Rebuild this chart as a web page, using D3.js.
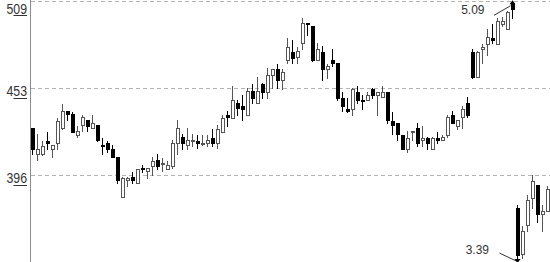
<!DOCTYPE html>
<html><head><meta charset="utf-8">
<script src="https://cdn.jsdelivr.net/npm/d3@7"></script>
<style>html,body{margin:0;padding:0;background:#fff;overflow:hidden}</style>
</head><body><svg id="c" width="550" height="262"></svg>
<script>
const open=[4.27,4.10,4.10,4.18,4.13,4.17,4.27,4.38,4.36,4.22,
4.29,4.32,4.27,4.29,4.16,4.17,4.13,4.08,3.82,3.93,
3.95,3.91,4.01,3.99,4.02,4.06,4.04,4.00,4.02,4.17,
4.21,4.16,4.19,4.18,4.17,4.17,4.20,4.17,4.24,4.35,
4.33,4.43,4.41,4.35,4.51,4.43,4.55,4.50,4.61,4.65,
4.58,4.71,4.76,4.73,4.82,4.95,4.93,4.71,4.76,4.65,
4.71,4.69,4.46,4.39,4.39,4.50,4.45,4.45,4.52,4.48,
4.47,4.50,4.31,4.30,4.22,4.13,4.24,4.27,4.19,4.20,
4.13,4.20,4.19,4.22,4.35,4.28,4.34,4.43,4.76,4.60,
4.78,4.81,4.85,4.81,4.94,4.91,5.07,3.75,3.45,3.64,
3.81,3.90,3.71,3.73];
const close=[4.13,4.13,4.15,4.17,4.16,4.31,4.38,4.36,4.24,4.25,
4.34,4.28,4.30,4.19,4.15,4.13,4.08,3.93,3.94,3.94,
3.93,4.00,4.00,4.01,4.05,4.02,4.04,4.03,4.17,4.27,
4.17,4.19,4.19,4.17,4.17,4.19,4.17,4.26,4.33,4.34,
4.45,4.40,4.39,4.51,4.46,4.51,4.50,4.61,4.65,4.58,
4.63,4.79,4.72,4.77,4.95,4.94,4.71,4.78,4.65,4.67,
4.69,4.46,4.41,4.38,4.52,4.45,4.44,4.48,4.48,4.50,
4.50,4.32,4.29,4.23,4.13,4.20,4.25,4.17,4.20,4.17,
4.20,4.19,4.21,4.34,4.30,4.32,4.39,4.35,4.60,4.76,
4.79,4.86,4.84,4.96,4.96,5.02,5.04,3.44,3.60,3.80,
3.92,3.71,3.73,3.87];
const high=[4.27,4.23,4.18,4.24,4.16,4.33,4.42,4.38,4.37,4.28,
4.35,4.32,4.35,4.29,4.20,4.18,4.16,4.08,3.95,3.95,
3.98,4.00,4.03,4.01,4.08,4.10,4.07,4.05,4.19,4.32,
4.23,4.27,4.23,4.22,4.22,4.22,4.26,4.29,4.35,4.38,
4.54,4.45,4.48,4.53,4.55,4.60,4.56,4.66,4.65,4.68,
4.65,4.85,4.84,4.79,4.98,4.95,4.93,4.82,4.80,4.68,
4.78,4.69,4.50,4.46,4.53,4.54,4.48,4.50,4.53,4.50,
4.54,4.50,4.37,4.30,4.22,4.25,4.25,4.30,4.28,4.21,
4.21,4.24,4.22,4.35,4.38,4.32,4.41,4.47,4.78,4.77,
4.81,4.91,4.94,4.98,4.99,5.03,5.09,3.77,3.63,3.83,
3.96,3.90,3.77,3.89];
const low=[4.10,4.06,4.09,4.13,4.08,4.13,4.26,4.32,4.24,4.21,
4.25,4.25,4.27,4.18,4.10,4.11,4.08,3.91,3.82,3.89,
3.91,3.91,3.98,3.94,3.96,4.00,3.99,4.00,4.01,4.10,
4.13,4.13,4.15,4.14,4.16,4.15,4.15,4.14,4.24,4.28,
4.33,4.35,4.32,4.35,4.43,4.43,4.46,4.46,4.53,4.53,
4.52,4.69,4.69,4.69,4.78,4.87,4.70,4.71,4.58,4.59,
4.67,4.45,4.38,4.37,4.35,4.43,4.39,4.45,4.46,4.35,
4.47,4.30,4.23,4.19,4.13,4.11,4.19,4.15,4.15,4.13,
4.13,4.17,4.19,4.21,4.30,4.26,4.27,4.34,4.59,4.60,
4.69,4.74,4.82,4.81,4.93,4.91,4.98,3.39,3.42,3.60,
3.75,3.66,3.60,3.73];
const tickValues=[5.09,4.525,3.96];
const tickLabels=["509","453","396"];

const W=550,H=262;
const svg=d3.select("#c");
const x=d3.scaleLinear().domain([0,open.length-1]).range([32,547]);
const y=d3.scaleLinear().domain([3.39,5.09]).range([263.1,1.3]);
const px=i=>Math.round(x(i));
const py=v=>Math.round(y(v));

// grid
svg.append("g").selectAll("line").data(tickValues).join("line")
  .attr("x1",31).attr("x2",W)
  .attr("y1",d=>Math.floor(y(d))+0.5).attr("y2",d=>Math.floor(y(d))+0.5)
  .attr("stroke","#b4b4b4").attr("stroke-dasharray","4,3");

// axis line
svg.append("line").attr("x1",30.5).attr("x2",30.5).attr("y1",0).attr("y2",H)
  .attr("stroke","#8c8c8c");

// labels
const lab=svg.append("g");
tickValues.forEach((v,k)=>{
  const base=Math.max(Math.floor(y(v))+8,13.5);
  lab.append("text").attr("x",6.5).attr("y",base)
    .attr("font-family","'Liberation Sans Narrow','Liberation Sans',Arial,sans-serif")
    .attr("font-size",15).attr("fill","#333")
    .attr("textLength",20.5).attr("lengthAdjust","spacingAndGlyphs")
    .text(tickLabels[k]);
  const uy=Math.floor(base+2)+0.5;
  lab.append("line").attr("x1",13.5).attr("x2",27).attr("y1",uy).attr("y2",uy)
    .attr("stroke","#333");
});

// candles
const data=open.map((o,i)=>({i,o,h:high[i],l:low[i],c:close[i],up:close[i]>=o}));
const g=svg.append("g");
g.selectAll("line.w").data(data).join("line").attr("class","w")
  .attr("x1",d=>px(d.i)+0.5).attr("x2",d=>px(d.i)+0.5)
  .attr("y1",d=>py(d.h)).attr("y2",d=>py(d.l)+1)
  .attr("stroke",d=>d.up?"#555":"#000");
g.selectAll("rect.b").data(data).join("rect").attr("class","b")
  .attr("x",d=>d.up?px(d.i)-0.5:px(d.i)-1)
  .attr("width",d=>d.up?3:4)
  .attr("y",d=>{const t=py(Math.max(d.o,d.c));return d.up?t+0.5:t;})
  .attr("height",d=>{const t=py(Math.max(d.o,d.c)),b=py(Math.min(d.o,d.c));
      return d.up?Math.max(1,b-t):Math.max(1,b-t+1);})
  .attr("fill",d=>d.up?"#fff":"#000")
  .attr("stroke",d=>d.up?"#555":"none");

// annotations
const fmt=d3.format(".2f");
const iMax=d3.maxIndex(high), iMin=d3.minIndex(low);
const ann=svg.append("g").attr("font-family","'Liberation Sans',Arial,sans-serif")
  .attr("font-size",12).attr("fill","#333");
{
  const cx=px(iMax)+0.5, hy=y(high[iMax]);
  ann.append("text").attr("x",cx-28).attr("y",hy+12.7).attr("text-anchor","end").text(fmt(high[iMax]));
  ann.append("line").attr("x1",cx-18.5).attr("y1",hy+14).attr("x2",cx-2).attr("y2",hy+4.5)
    .attr("stroke","#333");
  ann.append("path").attr("d",`M${cx},${hy-1}L${cx-3},${hy+3}L${cx+3},${hy+3}Z`).attr("fill","#000");
}
{
  const cx=px(iMin)+0.5, ly=y(low[iMin]);
  ann.append("text").attr("x",cx-28.5).attr("y",ly-9).attr("text-anchor","end").text(fmt(low[iMin]));
  ann.append("line").attr("x1",cx-18).attr("y1",ly-10).attr("x2",cx-1).attr("y2",ly-2)
    .attr("stroke","#333");
  ann.append("path").attr("d",`M${cx},${ly}L${cx-3},${ly-4}L${cx+3},${ly-4}Z`).attr("fill","#000");
}
</script></body></html>
